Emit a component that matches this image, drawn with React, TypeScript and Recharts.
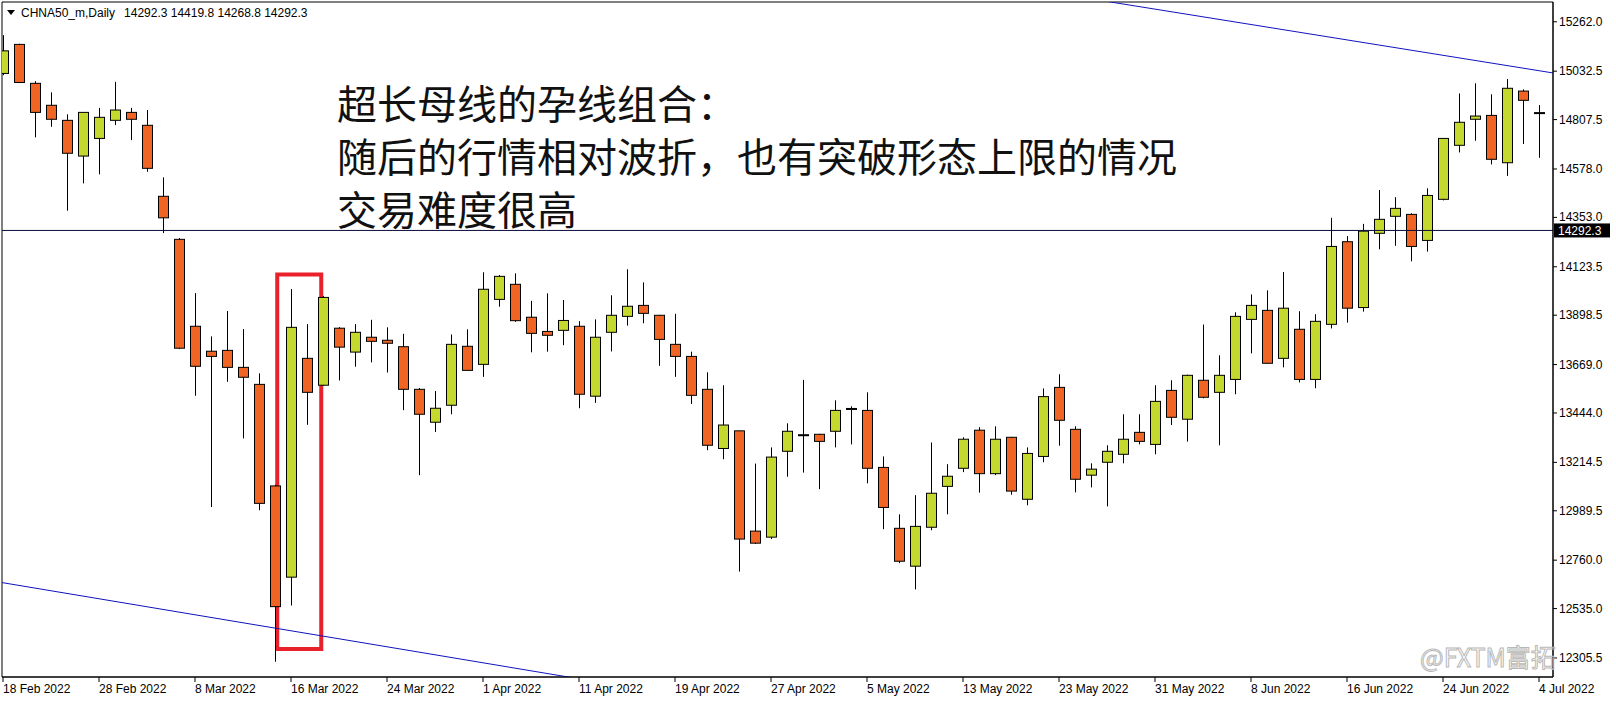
import React from 'react';
import { ComposedChart, Bar, XAxis, YAxis, ReferenceLine, ReferenceArea } from 'recharts';

const dates = [
  '18 Feb 2022', '21 Feb 2022', '22 Feb 2022', '23 Feb 2022', '24 Feb 2022', '25 Feb 2022', '28 Feb 2022',
  '1 Mar 2022', '2 Mar 2022', '3 Mar 2022', '4 Mar 2022', '7 Mar 2022', '8 Mar 2022', '9 Mar 2022', '10 Mar 2022',
  '11 Mar 2022', '14 Mar 2022', '15 Mar 2022', '16 Mar 2022', '17 Mar 2022', '18 Mar 2022', '21 Mar 2022',
  '22 Mar 2022', '23 Mar 2022', '24 Mar 2022', '25 Mar 2022', '28 Mar 2022', '29 Mar 2022', '30 Mar 2022',
  '31 Mar 2022', '1 Apr 2022', '4 Apr 2022', '5 Apr 2022', '6 Apr 2022', '7 Apr 2022', '8 Apr 2022',
  '11 Apr 2022', '12 Apr 2022', '13 Apr 2022', '14 Apr 2022', '15 Apr 2022', '18 Apr 2022', '19 Apr 2022',
  '20 Apr 2022', '21 Apr 2022', '22 Apr 2022', '25 Apr 2022', '26 Apr 2022', '27 Apr 2022', '28 Apr 2022',
  '29 Apr 2022', '2 May 2022', '3 May 2022', '4 May 2022', '5 May 2022', '6 May 2022', '9 May 2022',
  '10 May 2022', '11 May 2022', '12 May 2022', '13 May 2022', '16 May 2022', '17 May 2022', '18 May 2022',
  '19 May 2022', '20 May 2022', '23 May 2022', '24 May 2022', '25 May 2022', '26 May 2022', '27 May 2022',
  '30 May 2022', '31 May 2022', '1 Jun 2022', '2 Jun 2022', '3 Jun 2022', '6 Jun 2022', '7 Jun 2022',
  '8 Jun 2022', '9 Jun 2022', '10 Jun 2022', '13 Jun 2022', '14 Jun 2022', '15 Jun 2022', '16 Jun 2022',
  '17 Jun 2022', '20 Jun 2022', '21 Jun 2022', '22 Jun 2022', '23 Jun 2022', '24 Jun 2022', '27 Jun 2022',
  '28 Jun 2022', '29 Jun 2022', '30 Jun 2022', '1 Jul 2022', '4 Jul 2022',
];

const opens = [
  15022, 15157, 14976, 14874, 14804, 14638, 14720, 14804, 14841, 14781,
  14451, 14251, 13847, 13731, 13735, 13656, 13577, 13105, 12681, 13698,
  13573, 13838, 13727, 13796, 13782, 13752, 13554, 13401, 13480, 13754,
  13670, 13972, 14042, 13889, 13823, 13828, 13847, 13522, 13819, 13893,
  13944, 13898, 13763, 13707, 13554, 13279, 13361, 12895, 12867, 13266,
  13341, 13345, 13359, 13463, 13456, 13191, 12908, 12732, 12913, 13103,
  13187, 13364, 13162, 13331, 13043, 13242, 13563, 13368, 13155, 13215,
  13252, 13354, 13298, 13549, 13415, 13596, 13540, 13600, 13879, 13921,
  13698, 13833, 13600, 13856, 14240, 13934, 14279, 14358, 14367, 14246,
  14437, 14688, 14809, 14827, 14607, 14940, 14839,
];
const highs = [
  15200, 15160, 14986, 14934, 14832, 14843, 14862, 14983, 14862, 14852,
  14539, 14257, 14001, 13800, 13918, 13834, 13628, 13110, 14020, 13857,
  13988, 13843, 13857, 13877, 13842, 13812, 13560, 13546, 13809, 13833,
  14098, 14085, 14093, 13965, 14000, 13969, 13871, 13879, 13991, 14112,
  14051, 13900, 13905, 13729, 13633, 13573, 13362, 13209, 13284, 13396,
  13598, 13347, 13503, 13475, 13540, 13242, 12973, 13062, 13307, 13206,
  13331, 13378, 13382, 13333, 13284, 13558, 13624, 13382, 13210, 13294,
  13438, 13438, 13573, 13596, 13622, 13855, 13712, 13912, 13995, 14014,
  14099, 13917, 13903, 14351, 14266, 14323, 14480, 14447, 14372, 14488,
  14722, 14929, 14976, 14925, 14996, 14948, 14875,
];
const lows = [
  15014, 14977, 14725, 14774, 14384, 14511, 14553, 14782, 14712, 14565,
  14280, 13741, 13524, 13007, 13589, 13326, 12992, 12288, 12549, 13389,
  13570, 13595, 13659, 13679, 13632, 13457, 13155, 13356, 13438, 13640,
  13612, 13938, 13868, 13726, 13729, 13759, 13466, 13491, 13730, 13850,
  13861, 13663, 13612, 13486, 13271, 13229, 12707, 12835, 12858, 13148,
  13167, 13090, 13284, 13298, 13117, 12904, 12746, 12624, 12899, 12973,
  13169, 13074, 13155, 13064, 13015, 13215, 13292, 13075, 13098, 13010,
  13210, 13298, 13252, 13388, 13311, 13512, 13294, 13531, 13721, 13673,
  13656, 13586, 13559, 13837, 13864, 13915, 14205, 14221, 14149, 14194,
  14432, 14655, 14709, 14599, 14546, 14694, 14630,
];
const closes = [
  15127, 14980, 14841, 14809, 14651, 14841, 14818, 14852, 14809, 14581,
  14351, 13745, 13661, 13707, 13656, 13610, 13024, 12544, 13842, 13540,
  13981, 13750, 13819, 13777, 13768, 13554, 13438, 13466, 13763, 13642,
  14019, 14079, 13873, 13814, 13805, 13874, 13531, 13796, 13898, 13940,
  13907, 13786, 13707, 13526, 13294, 13388, 12858, 12839, 13239, 13359,
  13343, 13312, 13456, 13465, 13187, 13005, 12755, 12917, 13071, 13150,
  13322, 13162, 13322, 13081, 13256, 13520, 13410, 13136, 13183, 13266,
  13322, 13312, 13498, 13424, 13619, 13517, 13619, 13893, 13944, 13675,
  13931, 13600, 13870, 14218, 13931, 14289, 14344, 14395, 14218, 14455,
  14720, 14795, 14824, 14623, 14953, 14897, 14840,
];

const xTickIndexes = [0, 6, 12, 18, 24, 30, 36, 42, 48, 54, 60, 66, 72, 78, 84, 90, 96];
const yTickValues = [
  15262.0, 15032.5, 14807.5, 14578.0, 14353.0, 14123.5, 13898.5,
  13669.0, 13444.0, 13214.5, 12989.5, 12760.0, 12535.0, 12305.5,
];
const lastPrice = 14292.3;
const symbolLabel = 'CHNA50_m,Daily';
const ohlcLabel = ['14292.3', '14419.8', '14268.8', '14292.3'];
const noteLines = [
  '超长母线的孕线组合：',
  '随后的行情相对波折，也有突破形态上限的情况',
  '交易难度很高',
];
const watermark = '@FXTM富拓';
const upperTrend = [{ x: 60, y: 15464 }, { x: 100, y: 14987 }];
const lowerTrend = [{ x: -5, y: 12717 }, { x: 40, y: 12159 }];
const boxX = [17.14, 19.89];
const boxY = [12347, 14088];

const X_DOMAIN: [number, number] = [-0.0625, 96.875];
const Y_DOMAIN: [number, number] = [12217, 15354];

const BULL = '#c4d82e';
const BEAR = '#f06523';
const AXIS_FONT = '"Liberation Sans", Arial, sans-serif';

const data = dates.map((d, i) => ({
  i,
  date: d,
  open: opens[i],
  high: highs[i],
  low: lows[i],
  close: closes[i],
  range: [lows[i], highs[i]],
}));

const Candle = (props: any) => {
  const { x, y, width, height, payload } = props;
  if (x == null || y == null || !payload) return null;
  const top = Math.min(y, y + height);
  const h = Math.abs(height);
  const { open, close, high, low } = payload;
  const cx = Math.round(x + width / 2) + 0.5;
  const per = h / (high - low);
  const py = (p: number) => top + (high - p) * per;
  const bTop = py(Math.max(open, close));
  const bBot = py(Math.min(open, close));
  const bull = close >= open;
  return (
    <g>
      <line x1={cx} x2={cx} y1={top} y2={top + h} stroke="#000" strokeWidth={1} />
      <rect
        x={cx - 5}
        y={bTop}
        width={10}
        height={Math.max(bBot - bTop, 1)}
        fill={bull ? BULL : BEAR}
        stroke="#000"
        strokeWidth={1}
      />
    </g>
  );
};

const XTick = (props: any) => {
  const { x, y, payload } = props;
  const label = dates[payload.value];
  return (
    <g>
      <line x1={x} x2={x} y1={y} y2={y + 5} stroke="#000" strokeWidth={1} />
      <text x={x} y={y + 16} fontSize={12} fontFamily={AXIS_FONT} fill="#000" textAnchor="start">
        {label}
      </text>
    </g>
  );
};

const YTick = (props: any) => {
  const { x, y, payload } = props;
  return (
    <g>
      <line x1={x} x2={x + 4} y1={y} y2={y} stroke="#000" strokeWidth={1} />
      <text x={x + 6} y={y + 4} fontSize={12} fontFamily={AXIS_FONT} fill="#000" textAnchor="start">
        {Number(payload.value).toFixed(1)}
      </text>
    </g>
  );
};

const PriceTag = (props: any) => {
  const vb = props.viewBox || {};
  const right = (vb.x || 0) + (vb.width || 0);
  const yy = vb.y || 0;
  return (
    <g>
      <rect x={right + 1} y={yy - 7} width={56} height={14} fill="#000" />
      <text x={right + 5} y={yy + 4.5} fontSize={12} fontFamily={AXIS_FONT} fill="#fff">
        {lastPrice.toFixed(1)}
      </text>
    </g>
  );
};

export default function App() {
  return (
    <div style={{ position: 'absolute', left: 0, top: 0, width: 1616, height: 701, background: '#fff' }}>
      <ComposedChart
        width={1616}
        height={701}
        data={data}
        margin={{ top: 2, right: 0, left: 2, bottom: 0 }}
      >
        <XAxis
          dataKey="i"
          type="number"
          domain={X_DOMAIN}
          allowDataOverflow
          ticks={xTickIndexes}
          interval={0}
          tick={<XTick />}
          tickLine={false}
          tickSize={0}
          tickMargin={0}
          axisLine={{ stroke: '#000' }}
          height={24}
        />
        <YAxis
          orientation="right"
          type="number"
          domain={Y_DOMAIN}
          allowDataOverflow
          ticks={yTickValues}
          interval={0}
          tick={<YTick />}
          tickLine={false}
          tickSize={0}
          tickMargin={0}
          axisLine={{ stroke: '#000' }}
          width={63}
        />
        <ReferenceArea
          x1={X_DOMAIN[0]}
          x2={X_DOMAIN[1]}
          y1={Y_DOMAIN[0]}
          y2={Y_DOMAIN[1]}
          fill="none"
          stroke="#000"
          strokeWidth={1}
          ifOverflow="visible"
        />
        <ReferenceLine y={lastPrice} stroke="#0c0c3c" strokeWidth={1} label={<PriceTag />} />
        <Bar dataKey="range" barSize={10} shape={(p: any) => <Candle {...p} />} isAnimationActive={false} />
        <ReferenceArea
          x1={boxX[0]}
          x2={boxX[1]}
          y1={boxY[0]}
          y2={boxY[1]}
          fill="none"
          stroke="#e8212b"
          strokeWidth={4}
          ifOverflow="visible"
        />
        <ReferenceLine segment={upperTrend} stroke="#1212c0" strokeWidth={1} ifOverflow="hidden" />
        <ReferenceLine segment={lowerTrend} stroke="#1212c0" strokeWidth={1} ifOverflow="hidden" />
      </ComposedChart>
      <svg
        width={1616}
        height={701}
        style={{ position: 'absolute', left: 0, top: 0, pointerEvents: 'none' }}
      >
        <polygon points="7,10 15,10 11,15" fill="#000" />
        <text x={21} y={17} fontSize={12} fontFamily={AXIS_FONT} fill="#000">
          <tspan>{symbolLabel}</tspan>
          <tspan dx={9}>{ohlcLabel.join(' ')}</tspan>
        </text>
        {noteLines.map((t, k) => (
          <text
            key={k}
            x={337}
            y={119 + 53 * k}
            fontSize={40}
            fontFamily='"Noto Sans CJK SC", sans-serif'
            fill="#111"
          >
            {t}
          </text>
        ))}
        <text
          x={1420}
          y={667}
          fontSize={25}
          fontFamily='"Noto Sans CJK SC", sans-serif'
          fill="none"
          stroke="#b8b8b8"
          strokeWidth={1}
        >
          {watermark}
        </text>
      </svg>
    </div>
  );
}
